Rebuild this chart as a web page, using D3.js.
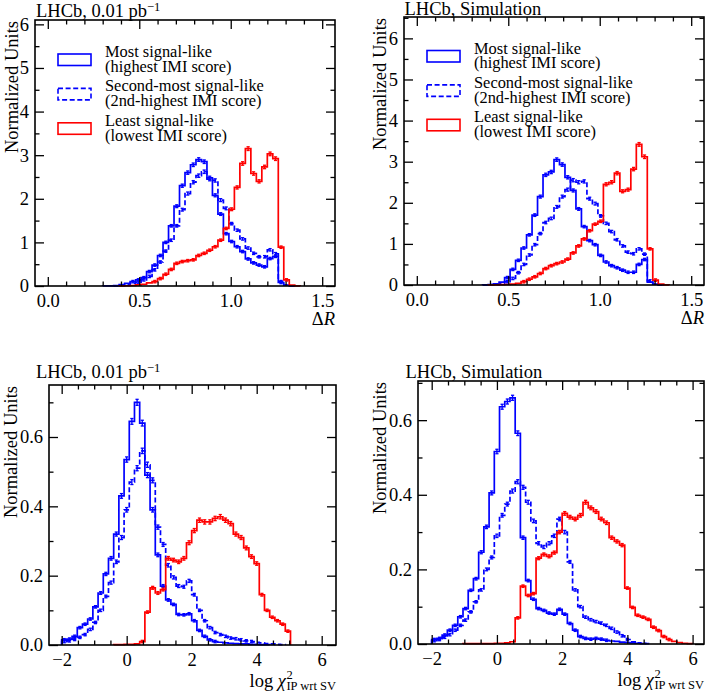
<!DOCTYPE html>
<html><head><meta charset="utf-8">
<script src="https://cdn.jsdelivr.net/npm/d3@7"></script>
<style>
body{margin:0;background:#fff}
svg{display:block}
text{font-family:"Liberation Serif","Times New Roman",serif;fill:#000}
</style>
</head><body><svg id="c" width="706" height="692"></svg>
<script>
// ---------------- data ----------------
const nBins = 50;
const dRRange = [0, 1.5];          // Delta R histogram range (50 bins)
const chiRange = [-2, 6];          // log chi2 histogram range (50 bins)

const seriesNames = ["Most signal-like", "Second-most signal-like", "Least signal-like"];
const seriesSubs  = ["(highest IMI score)", "(2nd-highest IMI score)", "(lowest IMI score)"];
const panelTitles = ["LHCb, 0.01 pb", "LHCb, Simulation", "LHCb, 0.01 pb", "LHCb, Simulation"];
const yAxisTitle = "Normalized Units";

const dRTicks = [0, 0.5, 1.0, 1.5];
const dRTickLabels = ["0.0", "0.5", "1.0", "1.5"];
const dRYTicks = [0, 1, 2, 3, 4, 5, 6];
const chiTicks = [-2, 0, 2, 4, 6];
const chiTickLabels = ["\u22122", "0", "2", "4", "6"];
const chiYTicks = [0, 0.2, 0.4, 0.6];
const chiYTickLabels = ["0.0", "0.2", "0.4", "0.6"];

// Panel 1: Delta R, data
const dRDataMost = [0,0,0,0,0,0,0,0,0,0,
  0.002,0.005,0.01,0.03,0.06,0.1,0.14,0.19,0.33,0.48,
  0.7,1.0,1.38,1.83,2.3,2.6,2.78,2.9,2.85,2.48,
  2.08,1.65,1.2,1.02,0.9,0.79,0.62,0.53,0.48,0.44,
  0.63,0.68,0.08,0.02,0.005,0,0,0,0,0];
const dRDataSecond = [0,0,0,0,0,0,0,0,0,0,
  0,0,0.005,0.015,0.03,0.06,0.09,0.14,0.22,0.37,
  0.55,0.8,1.05,1.38,1.75,2.12,2.38,2.53,2.62,2.45,
  2.42,1.97,1.78,1.43,1.28,1.08,0.87,0.75,0.67,0.67,
  0.83,0.74,0.1,0.02,0.005,0,0,0,0,0];
const dRDataLeast = [0,0,0,0,0,0,0,0,0,0,
  0,0,0,0.003,0.006,0.012,0.025,0.04,0.07,0.1,
  0.17,0.27,0.38,0.52,0.56,0.58,0.6,0.7,0.75,0.82,
  0.9,1.05,1.32,1.76,2.26,2.81,3.15,2.58,2.4,2.73,
  3.03,2.92,0.89,0.14,0.02,0.005,0,0,0,0];

// Panel 2: Delta R, simulation
const dRSimMost = [0,0,0,0,0,0,0,0,0,0,
  0,0,0.005,0.01,0.03,0.07,0.18,0.38,0.6,0.9,
  1.22,1.7,2.15,2.68,2.75,3.05,2.93,2.62,2.3,1.85,
  1.42,1.08,0.98,0.72,0.56,0.47,0.42,0.36,0.31,0.31,
  0.5,0.62,0.07,0.02,0.005,0,0,0,0,0];
const dRSimSecond = [0,0,0,0,0,0,0,0,0,0,
  0,0,0.003,0.008,0.015,0.035,0.08,0.16,0.3,0.5,
  0.73,0.98,1.25,1.52,1.62,1.9,2.15,2.32,2.55,2.5,
  2.52,2.1,1.98,1.68,1.5,1.3,1.1,0.95,0.8,0.76,
  0.88,0.75,0.1,0.02,0.005,0,0,0,0,0];
const dRSimLeast = [0,0,0,0,0,0,0,0,0,0,
  0,0,0,0.002,0.004,0.007,0.012,0.02,0.04,0.08,
  0.14,0.2,0.28,0.4,0.47,0.52,0.56,0.63,0.78,0.95,
  1.12,1.32,1.48,1.55,2.45,2.5,2.72,2.28,2.32,2.82,
  3.42,3.12,0.88,0.12,0.02,0.005,0,0,0,0];

// Panel 3: log chi2, data
const chiDataMost = [0.015,0.017,0.025,0.05,0.06,0.075,0.11,0.15,0.205,0.25,
  0.32,0.43,0.535,0.645,0.70,0.64,0.49,0.39,0.26,0.17,
  0.13,0.117,0.088,0.087,0.09,0.07,0.042,0.025,0.015,0.01,
  0.008,0.006,0.005,0.004,0.003,0.003,0.002,0.002,0.001,0.001,
  0,0,0,0,0,0,0,0,0,0];
const chiDataSecond = [0.01,0.012,0.016,0.022,0.03,0.045,0.065,0.1,0.14,0.18,
  0.24,0.31,0.39,0.47,0.51,0.56,0.52,0.475,0.34,0.29,
  0.23,0.195,0.17,0.168,0.185,0.145,0.1,0.07,0.05,0.036,
  0.03,0.025,0.02,0.018,0.015,0.012,0.01,0.008,0.006,0.004,
  0.003,0.002,0.001,0,0,0,0,0,0,0];
const chiDataLeast = [0,0,0,0,0,0,0,0,0,0,
  0.001,0.001,0.002,0.002,0.003,0.01,0.095,0.165,0.15,0.16,
  0.25,0.245,0.24,0.25,0.295,0.33,0.36,0.355,0.355,0.365,
  0.37,0.36,0.35,0.32,0.31,0.28,0.255,0.235,0.145,0.1,
  0.08,0.07,0.06,0.04,0,0,0,0,0,0];

// Panel 4: log chi2, simulation
const chiSimMost = [0.012,0.015,0.024,0.037,0.05,0.073,0.095,0.144,0.175,0.246,
  0.314,0.405,0.516,0.636,0.65,0.66,0.565,0.285,0.17,0.12,
  0.095,0.09,0.083,0.08,0.093,0.08,0.055,0.037,0.02,0.015,
  0.013,0.015,0.013,0.01,0.008,0.007,0.005,0.004,0.003,0.002,
  0.001,0,0,0,0,0,0,0,0,0];
const chiSimSecond = [0.009,0.012,0.018,0.025,0.037,0.05,0.064,0.086,0.113,0.145,
  0.2,0.232,0.29,0.345,0.375,0.41,0.435,0.42,0.38,0.33,
  0.27,0.26,0.27,0.29,0.335,0.3,0.22,0.145,0.1,0.072,
  0.065,0.06,0.056,0.05,0.042,0.032,0.022,0.012,0.006,0.003,
  0.002,0.001,0,0,0,0,0,0,0,0];
const chiSimLeast = [0,0,0,0,0,0,0.001,0.001,0.001,0.001,
  0.001,0.001,0.002,0.002,0.003,0.006,0.07,0.155,0.13,0.135,
  0.23,0.24,0.235,0.245,0.30,0.35,0.34,0.335,0.345,0.38,
  0.365,0.355,0.335,0.325,0.285,0.275,0.265,0.15,0.098,0.077,
  0.072,0.066,0.045,0.036,0.02,0.012,0.007,0.004,0.002,0.001];

// ---------------- layout / style ----------------
const FONT = 18.5;
const colors = ["#0000ff", "#0000ff", "#ff0000"];
const dashes = [null, "5,2.6", null];

const panels = [
  {L:35, T:20, R:335, B:286, xd:[-0.07,1.57], yd:[0,6.1], range:dRRange,
   series:[dRDataMost,dRDataSecond,dRDataLeast], title:panelTitles[0], sup:true,
   xt:dRTicks, xtl:dRTickLabels, xminor:0.1, yt:dRYTicks, ytl:dRYTicks.map(String), yminor:0.5,
   xlab:"dR", ylabX:17.5, titleX:36, titleY:16.5, legend:{x:58, tx:105, y0:57}, err:1.05},
  {L:404, T:17, R:704, B:285, xd:[-0.07,1.57], yd:[0,6.52], range:dRRange,
   series:[dRSimMost,dRSimSecond,dRSimLeast], title:panelTitles[1], sup:false,
   xt:dRTicks, xtl:dRTickLabels, xminor:0.1, yt:dRYTicks, ytl:dRYTicks.map(String), yminor:0.5,
   xlab:"dR", ylabX:385.5, titleX:404.5, titleY:15, legend:{x:427, tx:474, y0:53.5}, err:1.0},
  {L:49, T:385, R:336, B:645, xd:[-2.39,6.44], yd:[0,0.75], range:chiRange,
   series:[chiDataMost,chiDataSecond,chiDataLeast], title:panelTitles[2], sup:true,
   xt:chiTicks, xtl:chiTickLabels, xminor:0.5, yt:chiYTicks, ytl:chiYTickLabels, yminor:0.1,
   xlab:"chi", ylabX:17, titleX:36, titleY:377.5, legend:null, err:3.6},
  {L:418, T:381, R:704, B:644, xd:[-2.42,6.35], yd:[0,0.705], range:chiRange,
   series:[chiSimMost,chiSimSecond,chiSimLeast], title:panelTitles[3], sup:false,
   xt:chiTicks, xtl:chiTickLabels, xminor:0.5, yt:chiYTicks, ytl:chiYTickLabels, yminor:0.1,
   xlab:"chi", ylabX:385.5, titleX:405.5, titleY:377.5, legend:null, err:3.1}
];

const svg = d3.select("#c");
const MAJ = 9, MIN = 4.5;

function minorTicks(d, step, majors){
  const out = [];
  const s = Math.ceil(d[0]/step - 1e-9), e = Math.floor(d[1]/step + 1e-9);
  for (let i = s; i <= e; i++){
    const v = +(i*step).toFixed(6);
    if (!majors.some(m => Math.abs(m - v) < 1e-9)) out.push(v);
  }
  return out;
}

panels.forEach((p, pi) => {
  const x = d3.scaleLinear().domain(p.xd).range([p.L, p.R]);
  const y = d3.scaleLinear().domain(p.yd).range([p.B, p.T]);
  const g = svg.append("g");
  const binW = (p.range[1]-p.range[0]) / nBins;
  const edge = k => p.range[0] + k*binW;

  // histograms
  p.series.forEach((vals, si) => {
    let first = vals.findIndex(v => v > 0);
    let last = vals.length - 1 - [...vals].reverse().findIndex(v => v > 0);
    const pts = [[edge(first), 0]];
    for (let k = first; k <= last; k++) pts.push([edge(k), vals[k]]);
    pts.push([edge(last+1), 0]);
    const line = d3.line().x(d => x(d[0])).y(d => y(d[1])).curve(d3.curveStepAfter);
    g.append("path").attr("d", line(pts)).attr("fill", "none")
      .attr("stroke", colors[si]).attr("stroke-width", 1.7)
      .attr("stroke-dasharray", dashes[si]);
    // error bars
    const eg = g.append("g").attr("stroke", colors[si]).attr("stroke-width", 1.3);
    for (let k = first; k <= last; k++){
      const v = vals[k];
      if (v < p.yd[1]*0.012) continue;
      const cx = x(edge(k) + binW/2), cy = y(v);
      const h = Math.max(1.2, p.err*Math.sqrt(v));
      eg.append("line").attr("x1", cx).attr("x2", cx).attr("y1", cy-h).attr("y2", cy+h);
      eg.append("line").attr("x1", cx-1.6).attr("x2", cx+1.6).attr("y1", cy-h).attr("y2", cy-h);
      eg.append("line").attr("x1", cx-1.6).attr("x2", cx+1.6).attr("y1", cy+h).attr("y2", cy+h);
    }
  });

  // axes: inward ticks on four sides
  const xMin = minorTicks(p.xd, p.xminor, p.xt);
  const yMin = minorTicks(p.yd, p.yminor, p.yt);
  const styleAxis = sel => {
    sel.select(".domain").remove();
    sel.selectAll(".tick line").attr("stroke", "#000").attr("stroke-width", 1.3);
    sel.attr("font-family", null).attr("font-size", null);
    sel.selectAll("text").attr("font-size", FONT).attr("font-family", '"Liberation Serif",serif').attr("fill", "#000");
  };
  g.append("g").attr("transform", `translate(0,${p.B})`)
    .call(d3.axisBottom(x).tickValues(p.xt).tickSize(-MAJ).tickPadding(8).tickFormat((d,i) => p.xtl[i]))
    .call(styleAxis);
  g.append("g").attr("transform", `translate(0,${p.B})`)
    .call(d3.axisBottom(x).tickValues(xMin).tickSize(-MIN).tickFormat("")).call(styleAxis);
  g.append("g").attr("transform", `translate(0,${p.T})`)
    .call(d3.axisTop(x).tickValues(p.xt).tickSize(-MAJ).tickFormat("")).call(styleAxis);
  g.append("g").attr("transform", `translate(0,${p.T})`)
    .call(d3.axisTop(x).tickValues(xMin).tickSize(-MIN).tickFormat("")).call(styleAxis);
  g.append("g").attr("transform", `translate(${p.L},0)`)
    .call(d3.axisLeft(y).tickValues(p.yt).tickSize(-MAJ).tickPadding(6).tickFormat((d,i) => p.ytl[i]))
    .call(styleAxis);
  g.append("g").attr("transform", `translate(${p.L},0)`)
    .call(d3.axisLeft(y).tickValues(yMin).tickSize(-MIN).tickFormat("")).call(styleAxis);
  g.append("g").attr("transform", `translate(${p.R},0)`)
    .call(d3.axisRight(y).tickValues(p.yt).tickSize(-MAJ).tickFormat("")).call(styleAxis);
  g.append("g").attr("transform", `translate(${p.R},0)`)
    .call(d3.axisRight(y).tickValues(yMin).tickSize(-MIN).tickFormat("")).call(styleAxis);

  // frame
  g.append("rect").attr("x", p.L).attr("y", p.T).attr("width", p.R-p.L).attr("height", p.B-p.T)
    .attr("fill", "none").attr("stroke", "#000").attr("stroke-width", 1.6);

  // title
  const t = g.append("text").attr("x", p.titleX).attr("y", p.titleY).attr("font-size", FONT).text(p.title);
  if (p.sup) t.append("tspan").attr("dy", -6).attr("font-size", 12.5).text("\u22121");

  // y axis title
  g.append("text").attr("transform", `translate(${p.ylabX},${p.T+1}) rotate(-90)`)
    .attr("text-anchor", "end").attr("font-size", FONT).text(yAxisTitle);

  // x axis title
  if (p.xlab === "dR"){
    const xt = g.append("text").attr("x", p.R).attr("y", p.B+39).attr("text-anchor", "end").attr("font-size", FONT);
    xt.append("tspan").text("\u0394");
    xt.append("tspan").attr("font-style", "italic").text("R");
  } else {
    const base = p.B + 42;
    const lg = g.append("g");
    const main = lg.append("text").attr("x", 0).attr("y", base).attr("font-size", FONT);
    main.append("tspan").text("log ");
    main.append("tspan").attr("font-style", "italic").text("\u03c7");
    const w = main.node().getComputedTextLength();
    lg.append("text").attr("x", w+0.5).attr("y", base-8).attr("font-size", 12.5).text("2");
    const sub = lg.append("text").attr("x", w+0.5).attr("y", base+2.5).attr("font-size", 12.5).text("IP wrt SV");
    const ws = sub.node().getComputedTextLength();
    lg.attr("transform", `translate(${p.R - (w + 0.5 + ws)},0)`);
  }

  // legend
  if (p.legend){
    const lg = p.legend;
    seriesNames.forEach((nm, si) => {
      const yb = lg.y0 + si*34.4;
      g.append("rect").attr("x", lg.x).attr("y", yb - 3).attr("width", 33).attr("height", 11.5)
        .attr("fill", "none").attr("stroke", colors[si]).attr("stroke-width", 1.6)
        .attr("stroke-dasharray", dashes[si]);
      g.append("text").attr("x", lg.tx).attr("y", yb).attr("font-size", 16.4).text(nm);
      g.append("text").attr("x", lg.tx).attr("y", yb + 14.7).attr("font-size", 16.4).text(seriesSubs[si]);
    });
  }
});
</script>
</body></html>
